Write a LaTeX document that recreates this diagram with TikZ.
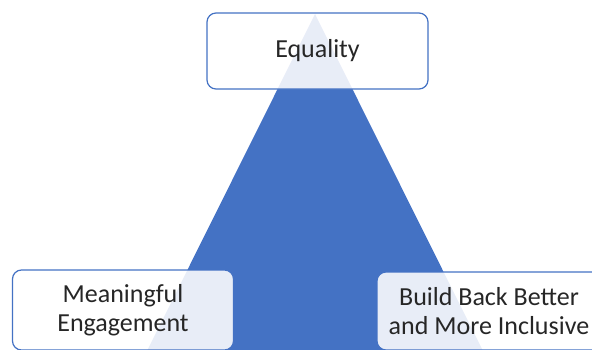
\documentclass[tikz,border=0pt]{standalone}
\usepackage{fontspec}
\setmainfont{Carlito}
\usetikzlibrary{
  positioning,
}
\definecolor{accent}{HTML}{4472C4}
\definecolor{ink}{HTML}{262626}

\begin{document}
\begin{tikzpicture}[
    x = 1pt,
    y = 1pt,
    n/.style={
      draw=accent, line width=1.2pt, fill=white, fill opacity=.88,
      text opacity=1, text=ink, rounded corners=9pt,
      minimum width=221pt, minimum height=78pt,
      inner sep=0pt, outer sep=0pt, align=center,
      font=\fontsize{26}{29.5}\selectfont,
    },
    t/.style={fill=accent},]
  \useasboundingbox (0,0) rectangle (592,349);
  \clip (0,0) rectangle (592,349);
  %%
  \fill[t] (147,-2) -- (315,335) -- (483,-2) -- cycle;
  %%
  \node[n, minimum height=76pt](Eq) at (317.5,298) {Equality};
  \node[n, minimum height=80pt](Engage) at (123,39)
  {Meaningful\\Engagement};
  \node[n, minimum width=224pt](Build) at (489,38)
  {Build Back Better\\and More Inclusive};
\end{tikzpicture}
\end{document}
